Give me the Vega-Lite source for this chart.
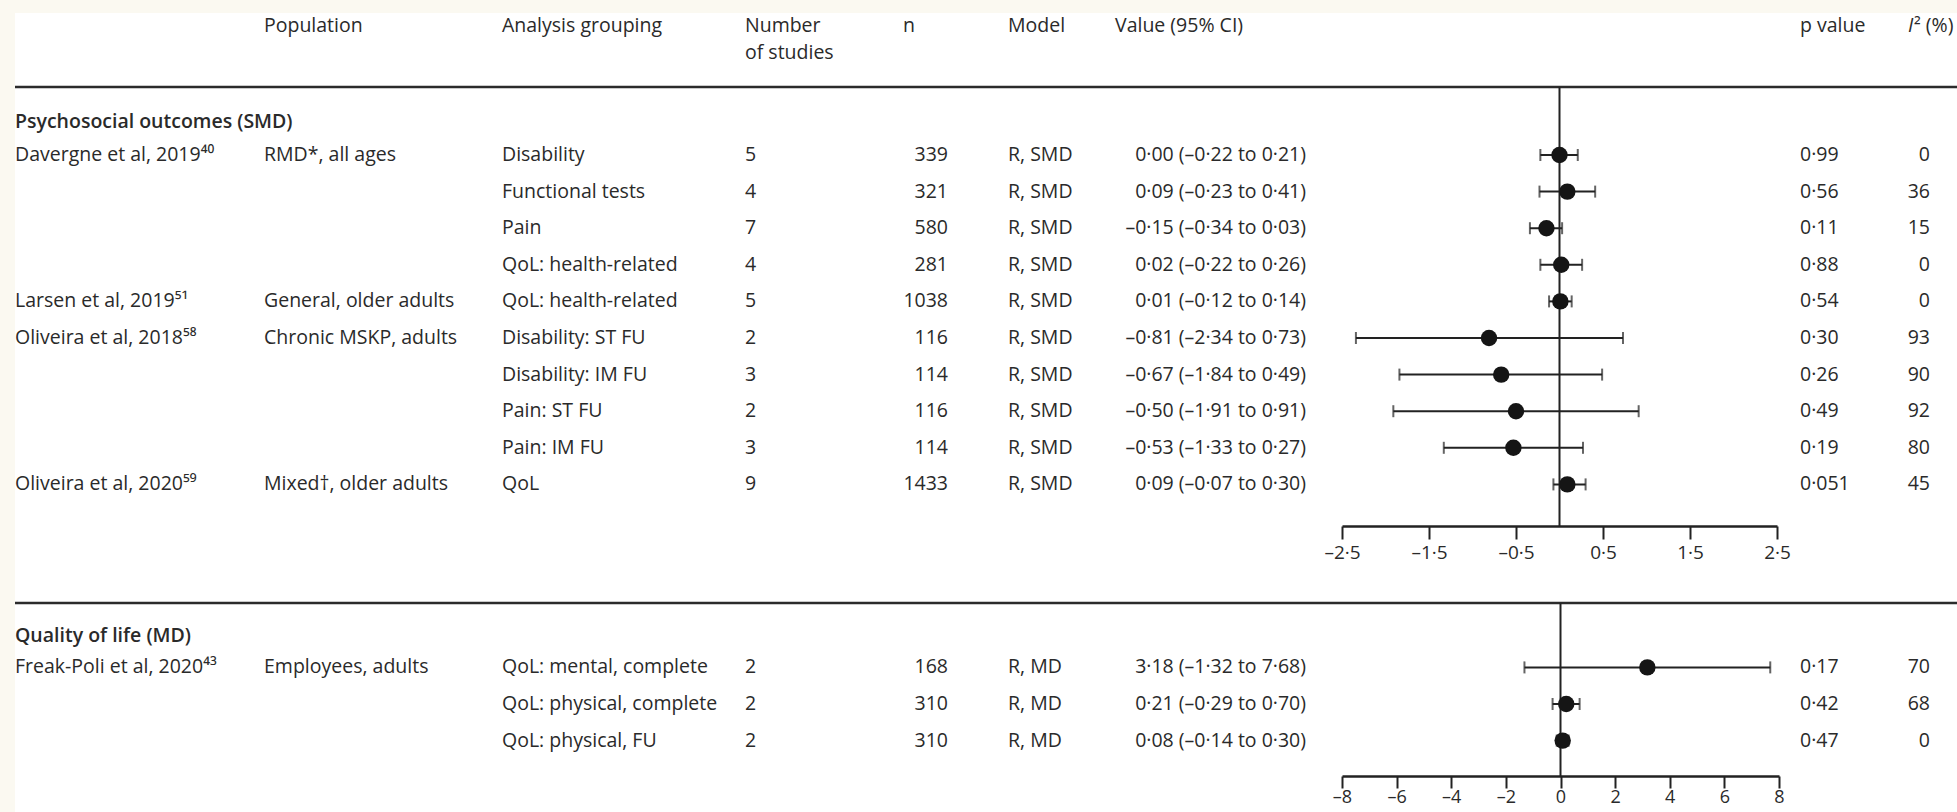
{
  "$schema": "https://vega.github.io/schema/vega-lite/v6.json",
  "width": 1942,
  "height": 799,
  "autosize": {"type": "none"},
  "padding": {"left": 15, "top": 13, "right": 0, "bottom": 0},
  "background": "#fbf9f1",
  "config": {
    "view": {"stroke": null, "fill": "#ffffff"},
    "text": {"font": "Open Sans", "fontSize": 19.5, "color": "#2a2a2a", "align": "left", "baseline": "middle"},
    "axis": {"labelFont": "Open Sans", "labelFontSize": 19, "labelColor": "#2a2a2a"}
  },
  "data": {
    "values": [
      {"row": 1, "measure": "SMD", "study": "Davergne et al, 2019⁴⁰", "pop": "RMD*, all ages", "group": "Disability", "k": 5, "n": 339, "model": "R, SMD", "est": 0.00, "lo": -0.22, "hi": 0.21, "ci": "0·00 (–0·22 to 0·21)", "p": "0·99", "i2": 0},
      {"row": 2, "measure": "SMD", "study": "", "pop": "", "group": "Functional tests", "k": 4, "n": 321, "model": "R, SMD", "est": 0.09, "lo": -0.23, "hi": 0.41, "ci": "0·09 (–0·23 to 0·41)", "p": "0·56", "i2": 36},
      {"row": 3, "measure": "SMD", "study": "", "pop": "", "group": "Pain", "k": 7, "n": 580, "model": "R, SMD", "est": -0.15, "lo": -0.34, "hi": 0.03, "ci": "–0·15 (–0·34 to 0·03)", "p": "0·11", "i2": 15},
      {"row": 4, "measure": "SMD", "study": "", "pop": "", "group": "QoL: health-related", "k": 4, "n": 281, "model": "R, SMD", "est": 0.02, "lo": -0.22, "hi": 0.26, "ci": "0·02 (–0·22 to 0·26)", "p": "0·88", "i2": 0},
      {"row": 5, "measure": "SMD", "study": "Larsen et al, 2019⁵¹", "pop": "General, older adults", "group": "QoL: health-related", "k": 5, "n": 1038, "model": "R, SMD", "est": 0.01, "lo": -0.12, "hi": 0.14, "ci": "0·01 (–0·12 to 0·14)", "p": "0·54", "i2": 0},
      {"row": 6, "measure": "SMD", "study": "Oliveira et al, 2018⁵⁸", "pop": "Chronic MSKP, adults", "group": "Disability: ST FU", "k": 2, "n": 116, "model": "R, SMD", "est": -0.81, "lo": -2.34, "hi": 0.73, "ci": "–0·81 (–2·34 to 0·73)", "p": "0·30", "i2": 93},
      {"row": 7, "measure": "SMD", "study": "", "pop": "", "group": "Disability: IM FU", "k": 3, "n": 114, "model": "R, SMD", "est": -0.67, "lo": -1.84, "hi": 0.49, "ci": "–0·67 (–1·84 to 0·49)", "p": "0·26", "i2": 90},
      {"row": 8, "measure": "SMD", "study": "", "pop": "", "group": "Pain: ST FU", "k": 2, "n": 116, "model": "R, SMD", "est": -0.50, "lo": -1.91, "hi": 0.91, "ci": "–0·50 (–1·91 to 0·91)", "p": "0·49", "i2": 92},
      {"row": 9, "measure": "SMD", "study": "", "pop": "", "group": "Pain: IM FU", "k": 3, "n": 114, "model": "R, SMD", "est": -0.53, "lo": -1.33, "hi": 0.27, "ci": "–0·53 (–1·33 to 0·27)", "p": "0·19", "i2": 80},
      {"row": 10, "measure": "SMD", "study": "Oliveira et al, 2020⁵⁹", "pop": "Mixed†, older adults", "group": "QoL", "k": 9, "n": 1433, "model": "R, SMD", "est": 0.09, "lo": -0.07, "hi": 0.30, "ci": "0·09 (–0·07 to 0·30)", "p": "0·051", "i2": 45},
      {"row": 15, "measure": "MD", "study": "Freak-Poli et al, 2020⁴³", "pop": "Employees, adults", "group": "QoL: mental, complete", "k": 2, "n": 168, "model": "R, MD", "est": 3.18, "lo": -1.32, "hi": 7.68, "ci": "3·18 (–1·32 to 7·68)", "p": "0·17", "i2": 70},
      {"row": 16, "measure": "MD", "study": "", "pop": "", "group": "QoL: physical, complete", "k": 2, "n": 310, "model": "R, MD", "est": 0.21, "lo": -0.29, "hi": 0.70, "ci": "0·21 (–0·29 to 0·70)", "p": "0·42", "i2": 68},
      {"row": 17, "measure": "MD", "study": "", "pop": "", "group": "QoL: physical, FU", "k": 2, "n": 310, "model": "R, MD", "est": 0.08, "lo": -0.14, "hi": 0.30, "ci": "0·08 (–0·14 to 0·30)", "p": "0·47", "i2": 0}
    ]
  },
  "layer": [
    {
      "layer": [
        {
          "mark": {"type": "text"},
          "encoding": {
            "x": {"datum": 0, "type": "quantitative", "scale": {"domain": [0, 1942], "nice": false, "zero": false}, "axis": null},
            "y": {"field": "row", "type": "quantitative", "scale": {"domain": [-2.880, 18.951], "reverse": true, "nice": false, "zero": false}, "axis": null},
            "text": {"field": "study"}
          }
        },
        {"mark": {"type": "text"}, "encoding": {"x": {"datum": 249, "type": "quantitative"}, "y": {"field": "row", "type": "quantitative"}, "text": {"field": "pop"}}},
        {"mark": {"type": "text"}, "encoding": {"x": {"datum": 487, "type": "quantitative"}, "y": {"field": "row", "type": "quantitative"}, "text": {"field": "group"}}},
        {"mark": {"type": "text"}, "encoding": {"x": {"datum": 730, "type": "quantitative"}, "y": {"field": "row", "type": "quantitative"}, "text": {"field": "k"}}},
        {"mark": {"type": "text", "align": "right"}, "encoding": {"x": {"datum": 933, "type": "quantitative"}, "y": {"field": "row", "type": "quantitative"}, "text": {"field": "n"}}},
        {"mark": {"type": "text"}, "encoding": {"x": {"datum": 993, "type": "quantitative"}, "y": {"field": "row", "type": "quantitative"}, "text": {"field": "model"}}},
        {"mark": {"type": "text", "align": "right"}, "encoding": {"x": {"datum": 1291, "type": "quantitative"}, "y": {"field": "row", "type": "quantitative"}, "text": {"field": "ci"}}},
        {"mark": {"type": "text"}, "encoding": {"x": {"datum": 1785, "type": "quantitative"}, "y": {"field": "row", "type": "quantitative"}, "text": {"field": "p"}}},
        {"mark": {"type": "text", "align": "right"}, "encoding": {"x": {"datum": 1915, "type": "quantitative"}, "y": {"field": "row", "type": "quantitative"}, "text": {"field": "i2"}}},

        {"data": {"values": [{"label": "Population"}]}, "mark": {"type": "text"}, "encoding": {"x": {"datum": 249, "type": "quantitative"}, "y": {"datum": -2.525, "type": "quantitative"}, "text": {"field": "label"}}},
        {"data": {"values": [{"label": "Analysis grouping"}]}, "mark": {"type": "text"}, "encoding": {"x": {"datum": 487, "type": "quantitative"}, "y": {"datum": -2.525, "type": "quantitative"}, "text": {"field": "label"}}},
        {"data": {"values": [{"label": "Number"}]}, "mark": {"type": "text"}, "encoding": {"x": {"datum": 730, "type": "quantitative"}, "y": {"datum": -2.525, "type": "quantitative"}, "text": {"field": "label"}}},
        {"data": {"values": [{"label": "of studies"}]}, "mark": {"type": "text"}, "encoding": {"x": {"datum": 730, "type": "quantitative"}, "y": {"datum": -1.787, "type": "quantitative"}, "text": {"field": "label"}}},
        {"data": {"values": [{"label": "n"}]}, "mark": {"type": "text"}, "encoding": {"x": {"datum": 888, "type": "quantitative"}, "y": {"datum": -2.525, "type": "quantitative"}, "text": {"field": "label"}}},
        {"data": {"values": [{"label": "Model"}]}, "mark": {"type": "text"}, "encoding": {"x": {"datum": 993, "type": "quantitative"}, "y": {"datum": -2.525, "type": "quantitative"}, "text": {"field": "label"}}},
        {"data": {"values": [{"label": "Value (95% CI)"}]}, "mark": {"type": "text"}, "encoding": {"x": {"datum": 1100, "type": "quantitative"}, "y": {"datum": -2.525, "type": "quantitative"}, "text": {"field": "label"}}},
        {"data": {"values": [{"label": "p value"}]}, "mark": {"type": "text"}, "encoding": {"x": {"datum": 1785, "type": "quantitative"}, "y": {"datum": -2.525, "type": "quantitative"}, "text": {"field": "label"}}},
        {"data": {"values": [{"label": "I"}]}, "mark": {"type": "text", "fontStyle": "italic"}, "encoding": {"x": {"datum": 1893, "type": "quantitative"}, "y": {"datum": -2.525, "type": "quantitative"}, "text": {"field": "label"}}},
        {"data": {"values": [{"label": "² (%)"}]}, "mark": {"type": "text"}, "encoding": {"x": {"datum": 1899, "type": "quantitative"}, "y": {"datum": -2.525, "type": "quantitative"}, "text": {"field": "label"}}},

        {"data": {"values": [{"label": "Psychosocial outcomes (SMD)"}]}, "mark": {"type": "text", "fontWeight": 600}, "encoding": {"x": {"datum": 0, "type": "quantitative"}, "y": {"datum": 0.1, "type": "quantitative"}, "text": {"field": "label"}}},
        {"data": {"values": [{"label": "Quality of life (MD)"}]}, "mark": {"type": "text", "fontWeight": 600}, "encoding": {"x": {"datum": 0, "type": "quantitative"}, "y": {"datum": 14.14, "type": "quantitative"}, "text": {"field": "label"}}},

        {"data": {"values": [{"section": "SMD"}]}, "mark": {"type": "rule", "color": "#2b2b2b", "strokeWidth": 2.5}, "encoding": {"y": {"datum": -0.858, "type": "quantitative"}}},
        {"data": {"values": [{"section": "MD"}]}, "mark": {"type": "rule", "color": "#2b2b2b", "strokeWidth": 2.5}, "encoding": {"y": {"datum": 13.24, "type": "quantitative"}}}
      ]
    },
    {
      "transform": [{"filter": "datum.measure === 'SMD'"}],
      "layer": [
        {
          "mark": {"type": "rule", "color": "#222222", "strokeWidth": 2},
          "encoding": {
            "x": {
              "field": "lo", "type": "quantitative",
              "scale": {"domain": [-2.5, 2.5], "range": [1327, 1762], "nice": false, "zero": false},
              "axis": {
                "orient": "bottom", "offset": -286, "title": null, "grid": false,
                "values": [-2.5, -1.5, -0.5, 0.5, 1.5, 2.5],
                "labelExpr": "(datum.value < 0 ? '–' : '') + replace(format(abs(datum.value), '.1f'), '.', '·')",
                "domainColor": "#222222", "domainWidth": 2.5, "tickColor": "#222222", "tickWidth": 2, "tickSize": 13,
                "labelPadding": 4, "labelFlush": false, "labelOverlap": false
              }
            },
            "x2": {"field": "hi"},
            "y": {"field": "row", "type": "quantitative"}
          }
        },
        {"mark": {"type": "tick", "orient": "vertical", "color": "#222222", "thickness": 2, "size": 12}, "encoding": {"x": {"field": "lo", "type": "quantitative"}, "y": {"field": "row", "type": "quantitative"}}},
        {"mark": {"type": "tick", "orient": "vertical", "color": "#222222", "thickness": 2, "size": 12}, "encoding": {"x": {"field": "hi", "type": "quantitative"}, "y": {"field": "row", "type": "quantitative"}}},
        {"data": {"values": [{"ref": 0}]}, "mark": {"type": "rule", "color": "#222222", "strokeWidth": 2}, "encoding": {"x": {"field": "ref", "type": "quantitative"}, "y": {"datum": -0.858, "type": "quantitative"}, "y2": {"datum": 11.137}}},
        {"mark": {"type": "circle", "color": "#151515", "opacity": 1, "size": 270}, "encoding": {"x": {"field": "est", "type": "quantitative"}, "y": {"field": "row", "type": "quantitative"}}}
      ]
    },
    {
      "transform": [{"filter": "datum.measure === 'MD'"}],
      "layer": [
        {
          "mark": {"type": "rule", "color": "#222222", "strokeWidth": 2},
          "encoding": {
            "x": {
              "field": "lo", "type": "quantitative",
              "scale": {"domain": [-8, 8], "range": [1327, 1764], "nice": false, "zero": false},
              "axis": {
                "orient": "bottom", "offset": -36, "title": null, "grid": false,
                "values": [-8, -6, -4, -2, 0, 2, 4, 6, 8],
                "labelExpr": "(datum.value < 0 ? '–' : '') + abs(datum.value)",
                "domainColor": "#222222", "domainWidth": 2.5, "tickColor": "#222222", "tickWidth": 2, "tickSize": 12,
                "labelFontSize": 18, "labelPadding": 0, "labelFlush": false, "labelOverlap": false
              }
            },
            "x2": {"field": "hi"},
            "y": {"field": "row", "type": "quantitative"}
          }
        },
        {"mark": {"type": "tick", "orient": "vertical", "color": "#222222", "thickness": 2, "size": 12}, "encoding": {"x": {"field": "lo", "type": "quantitative"}, "y": {"field": "row", "type": "quantitative"}}},
        {"mark": {"type": "tick", "orient": "vertical", "color": "#222222", "thickness": 2, "size": 12}, "encoding": {"x": {"field": "hi", "type": "quantitative"}, "y": {"field": "row", "type": "quantitative"}}},
        {"data": {"values": [{"ref": 0}]}, "mark": {"type": "rule", "color": "#222222", "strokeWidth": 2}, "encoding": {"x": {"field": "ref", "type": "quantitative"}, "y": {"datum": 13.24, "type": "quantitative"}, "y2": {"datum": 17.967}}},
        {"mark": {"type": "circle", "color": "#151515", "opacity": 1, "size": 270}, "encoding": {"x": {"field": "est", "type": "quantitative"}, "y": {"field": "row", "type": "quantitative"}}}
      ]
    }
  ],
  "resolve": {"scale": {"x": "independent"}, "axis": {"x": "independent"}}
}
